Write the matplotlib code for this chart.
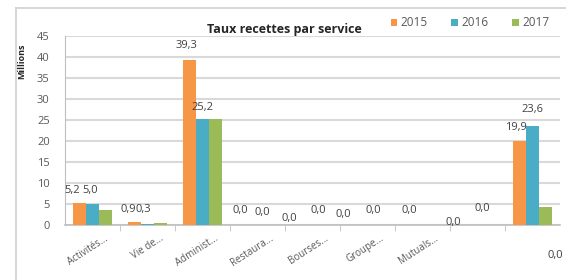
import matplotlib
matplotlib.use('Agg')
import matplotlib.pyplot as plt
import matplotlib.transforms as mtransforms
from matplotlib.lines import Line2D
import numpy as np

# données (millions)
services = ['Activités...', 'Vie de...', 'Administ...', 'Restaura...', 'Bourses...',
            'Groupe...', 'Mutuals...', '', '']
annees = ['2015', '2016', '2017']
v2015 = [5.2, 0.8, 39.3, 0.0, 0.0, 0.0, 0.0, 0.0, 19.9]
v2016 = [5.0, 0.2, 25.2, 0.0, 0.0, 0.0, 0.0, 0.0, 23.6]
v2017 = [3.5, 0.4, 25.2, 0.0, 0.0, 0.0, 0.0, 0.0, 4.3]
# textes des étiquettes tels qu'affichés (None = masquée)
lab2015 = ['5,2', '0,9', '39,3', '0,0', '0,0', '0,0', '0,0', '0,0', '19,9']
lab2016 = ['5,0', None, '25,2', '0,0', '0,0', '0,0', None, '0,0', '23,6']
lab2017 = [None, '0,3', None, None, None, None, None, None, '0,0']

couleurs = ['#F79646', '#4BACC6', '#9BBB59']
gris = '#595959'

# décalages des étiquettes (pixels, dx vers la droite, dy vers le haut)
dec2015 = [(-7, 13), (-6, 12), (-3, 14), (-4, 14), (-10, 6), (-11, 10), (0, 15), (-11, 3), (-3, 14)]
dec2016 = [(-2, 14), (0, 0), (0, 12), (5, 12), (6, 15), (6, 15), (0, 0), (5, 16), (0, 16)]
dec2017 = [(0, 0), (-17, 14), (0, 0), (0, 0), (0, 0), (0, 0), (0, 0), (0, 0), (10, -49)]

plt.rcParams['font.family'] = ['Open Sans', 'DejaVu Sans']

fig = plt.figure(figsize=(5.66, 2.8), dpi=100)
ax = fig.add_axes([65/566, 1-225/280, 495/566, (225-36)/280])

x = np.arange(len(services))
w = 0.24
series = [v2015, v2016, v2017]
labels = [lab2015, lab2016, lab2017]
decs = [dec2015, dec2016, dec2017]
for k in range(3):
    pos = x + (k-1)*w
    ax.bar(pos, series[k], width=w, color=couleurs[k], zorder=3, label=annees[k])
    for i in range(len(services)):
        if labels[k][i] is None:
            continue
        dx, dy = decs[k][i]
        ax.annotate(labels[k][i], (pos[i], series[k][i]), xytext=(dx, dy),
                    textcoords='offset pixels', ha='center', va='center',
                    fontsize=8, color='#404040', zorder=5, annotation_clip=False)

ax.set_xlim(-0.5, len(services)-0.5)
ax.set_ylim(0, 45)
ax.set_yticks(np.arange(0, 46, 5))
ax.yaxis.grid(True, color='#d9d9d9', linewidth=1.5, zorder=0)
ax.tick_params(axis='y', length=0, pad=11, labelsize=8, labelcolor=gris)

ax.set_xticks(x)
ax.set_xticklabels(services, rotation=33, ha='right', va='center',
                   rotation_mode='anchor', fontsize=7, color=gris)
ax.set_xticks(np.arange(0.5, len(services)-0.5, 1), minor=True)
ax.tick_params(axis='x', which='major', length=0, pad=9)
ax.tick_params(axis='x', which='minor', length=4, color='#bfbfbf', direction='out')
off = mtransforms.ScaledTranslation(15/100, 0, fig.dpi_scale_trans)
for t in ax.get_xticklabels():
    t.set_transform(t.get_transform() + off)

for s in ['top', 'right']:
    ax.spines[s].set_visible(False)
ax.spines['left'].set_color('#bfbfbf')
ax.spines['bottom'].set_color('#bfbfbf')
ax.spines['bottom'].set_linewidth(1.2)

fig.text(0.503, 1-30/280, 'Taux recettes par service', ha='center', va='center',
         fontsize=9, fontweight='bold', color='#262626')
fig.text(22/566, 1-61/280, 'Millions', rotation=90, ha='center', va='center',
         fontsize=6.5, fontweight='bold', color='#262626')

fig.legend(loc='center right', bbox_to_anchor=(560/566, 1-23/280), ncol=3,
           frameon=False, fontsize=8.5, labelcolor=gris, handlelength=0.55,
           handleheight=0.55, handletextpad=0.3, columnspacing=2.0)

# cadre du graphique
fig.add_artist(Line2D([16/566, 16/566], [0, 1-8/280], transform=fig.transFigure,
                      color='#cfcfcf', linewidth=1.2))
fig.add_artist(Line2D([16/566, 1], [1-8/280, 1-8/280], transform=fig.transFigure,
                      color='#cfcfcf', linewidth=1.2))

fig.savefig('out.png', dpi=100)
